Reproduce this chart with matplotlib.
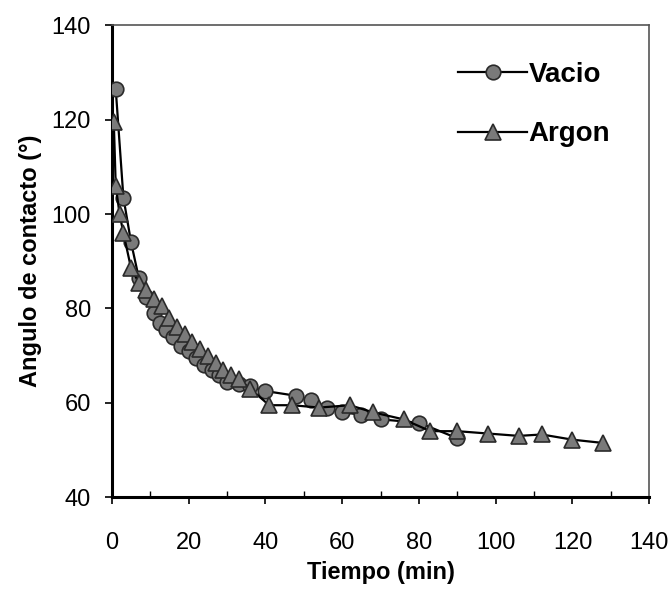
import matplotlib
matplotlib.use("Agg")
import matplotlib.pyplot as plt
from matplotlib.ticker import MultipleLocator

plt.rcParams['font.family'] = ['Liberation Sans', 'DejaVu Sans']

# Data
t_vacio = [1, 3, 5, 7, 9, 11, 12.5, 14, 16, 18, 20, 22, 24, 26, 28, 30, 33, 36,
           40, 48, 52, 56, 60, 65, 70, 80, 90]
v_vacio = [126.5, 103.5, 94, 86.5, 82.5, 79, 77, 75.5, 74, 72, 71, 69.5, 68, 67,
           66, 64.5, 64, 63.5, 62.5, 61.5, 60.5, 59, 58, 57.5, 56.5, 55.8, 52.5]

t_argon = [0.5, 1, 2, 3, 5, 7, 9, 11, 13, 15, 17, 19, 21, 23, 25, 27, 29, 31, 33,
           36, 41, 47, 54, 62, 68, 76, 83, 90, 98, 106, 112, 120, 128]
v_argon = [119.5, 106, 100, 96, 88.5, 85.5, 84, 82, 80.5, 78, 76, 74.5, 73, 71.5,
           70, 68.5, 67, 66, 65, 63, 59.5, 59.5, 59, 59.5, 58, 56.5, 54, 54, 53.5,
           53, 53.3, 52.2, 51.5]

xlabel = "Tiempo (min)"
ylabel = "Angulo de contacto (°)"

fig = plt.figure(figsize=(6.7, 6.02), dpi=100)
ax = fig.add_axes([0.167, 0.174, 0.802, 0.784])

ax.plot(t_vacio, v_vacio, color='black', lw=1.6, marker='o', ms=10.5,
        markerfacecolor='#7a7a7a', markeredgecolor='#2a2a2a', markeredgewidth=1.2,
        label='Vacio', zorder=3)
ax.plot(t_argon, v_argon, color='black', lw=1.6, marker='^', ms=11.5,
        markerfacecolor='#7a7a7a', markeredgecolor='#2a2a2a', markeredgewidth=1.2,
        label='Argon', zorder=3)

ax.set_xlim(0, 140)
ax.set_ylim(40, 140)
ax.xaxis.set_major_locator(MultipleLocator(20))
ax.xaxis.set_minor_locator(MultipleLocator(10))
ax.yaxis.set_major_locator(MultipleLocator(20))

ax.tick_params(axis='y', which='major', labelsize=17, direction='out',
               length=5, width=1.2, pad=10)
ax.tick_params(axis='x', which='major', labelsize=17, direction='out',
               length=5, width=1.2, pad=20)
ax.tick_params(axis='x', which='minor', direction='in', length=4, width=1)

for side in ['left', 'bottom']:
    ax.spines[side].set_linewidth(2.2)
for side in ['top', 'right']:
    ax.spines[side].set_linewidth(1.2)
    ax.spines[side].set_color('#555555')

ax.set_xlabel(xlabel, fontsize=17, fontweight='bold', labelpad=5)
ax.set_ylabel(ylabel, fontsize=17, fontweight='bold', labelpad=7)

leg = ax.legend(loc='upper left', bbox_to_anchor=(0.644, 0.922), frameon=False,
                handlelength=2.5, handletextpad=0.05, labelspacing=1.2,
                borderaxespad=0, borderpad=0, prop={'size': 20, 'weight': 'bold'})

fig.savefig("out.png", dpi=100)
